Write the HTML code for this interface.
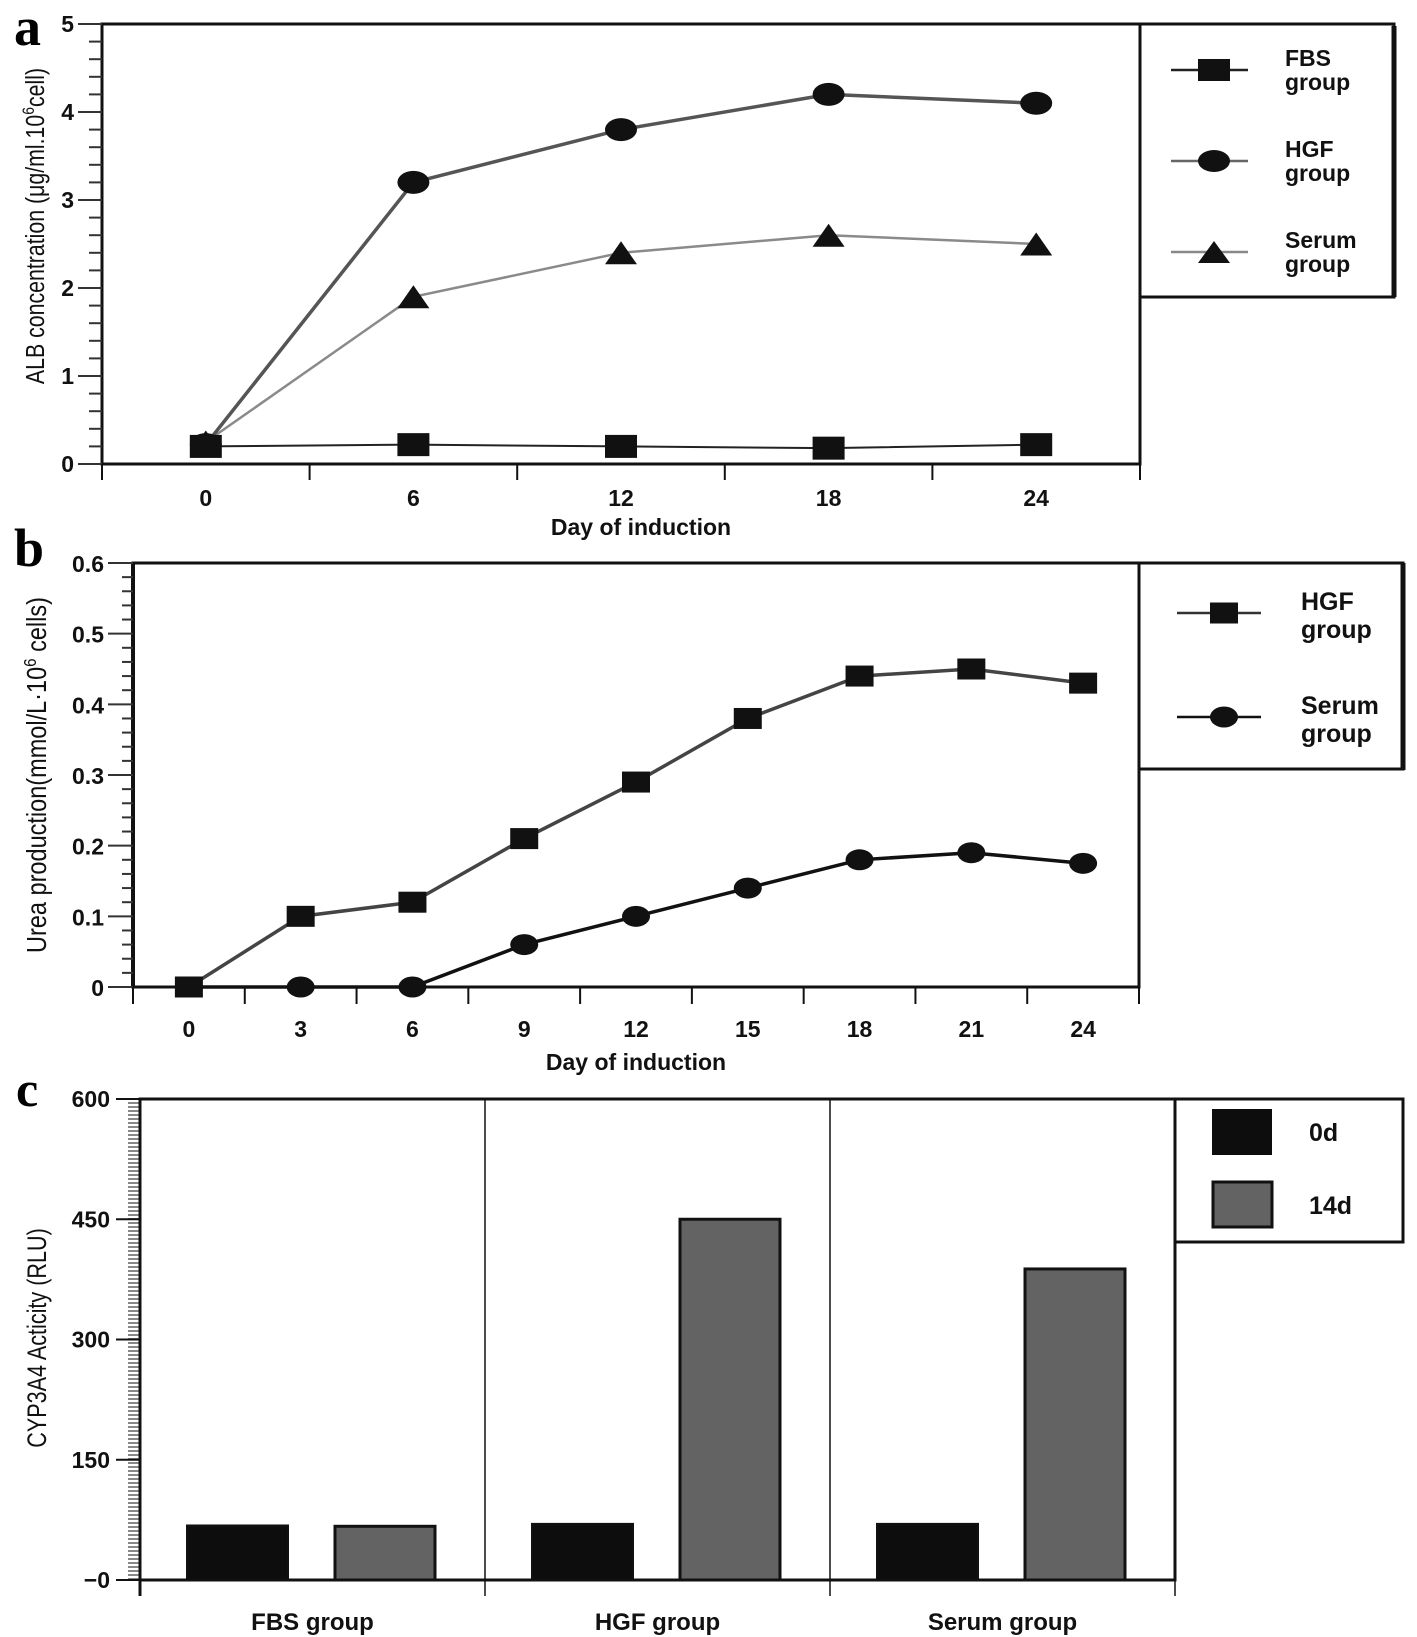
<!DOCTYPE html>
<html><head><meta charset="utf-8">
<style>
html,body{margin:0;padding:0;background:#fff;}
svg{display:block;font-family:"Liberation Sans",sans-serif;}
.tk{font-size:23px;font-weight:bold;fill:#111;}
</style></head>
<body>
<svg id="fig" width="1417" height="1637" viewBox="0 0 1417 1637" xmlns="http://www.w3.org/2000/svg">
<text x="14" y="45" font-family="Liberation Serif,serif" font-size="54" font-weight="bold">a</text>
<text x="14" y="566" font-family="Liberation Serif,serif" font-size="54" font-weight="bold">b</text>
<text x="16" y="1106" font-family="Liberation Serif,serif" font-size="50" font-weight="bold">c</text>
<g id="ga"></g>
<g id="gb"></g>
<g id="gc"></g>
</svg>
<script>
// Panel a data
const aDays = [0, 6, 12, 18, 24];
const aFBS = [0.2, 0.22, 0.2, 0.18, 0.22];
const aHGF = [0.22, 3.2, 3.8, 4.2, 4.1];
const aSerum = [0.25, 1.9, 2.4, 2.6, 2.5];
const aYTicks = [0, 1, 2, 3, 4, 5];
// Panel b data
const bDays = [0, 3, 6, 9, 12, 15, 18, 21, 24];
const bHGF = [0, 0.1, 0.12, 0.21, 0.29, 0.38, 0.44, 0.45, 0.43];
const bSerum = [0, 0, 0, 0.06, 0.1, 0.14, 0.18, 0.19, 0.175];
const bYTicks = ["0", "0.1", "0.2", "0.3", "0.4", "0.5", "0.6"];
// Panel c data
const cGroups = ["FBS group", "HGF group", "Serum group"];
const c0d = [68, 70, 70];
const c14d = [67, 450, 388];
const cYTicks = ["\u22120", "150", "300", "450", "600"];

const NS = "http://www.w3.org/2000/svg";
function mk(parent, tag, attrs, text) {
  const e = document.createElementNS(NS, tag);
  for (const k in attrs) e.setAttribute(k, attrs[k]);
  if (text !== undefined) e.textContent = text;
  parent.appendChild(e);
  return e;
}
function marker(g, type, cx, cy, w, h) {
  let e;
  if (type === 'sq') e = mk(g, 'rect', {x: cx - w/2, y: cy - h/2, width: w, height: h, fill: '#111'});
  else if (type === 'ci') e = mk(g, 'ellipse', {cx: cx, cy: cy, rx: w/2, ry: h/2, fill: '#111'});
  else e = mk(g, 'polygon', {points: `${cx-w/2},${cy+h/2} ${cx+w/2},${cy+h/2} ${cx},${cy-h/2}`, fill: '#111'});
  return e;
}

// ---------- Panel A ----------
(function(){
  const g = document.getElementById('ga');
  const L = 102, R = 1140, T = 24, B = 464;
  const xs = d => L + (d + 3) / 30 * (R - L);
  const ys = v => B - v / 5 * (B - T);
  mk(g, 'rect', {x: L, y: T, width: R - L, height: B - T, fill: 'none', stroke: '#111', 'stroke-width': 3});
  for (let i = 0; i <= 25; i++) {
    const v = i * 0.2, y = ys(v), major = i % 5 === 0;
    mk(g, 'line', {x1: major ? 78 : 89, x2: L, y1: y, y2: y, stroke: '#333', 'stroke-width': 2});
  }
  aYTicks.forEach(v => {
    const t = mk(g, 'text', {x: 74, y: ys(v) + 8, 'text-anchor': 'end', class: 'tk'}, String(v));
    
    
  });
  for (let d = -3; d <= 27; d += 6) mk(g, 'line', {x1: xs(d), x2: xs(d), y1: B, y2: B + 16, stroke: '#111', 'stroke-width': 2});
  aDays.forEach(d => {
    const t = mk(g, 'text', {x: xs(d), y: 506, 'text-anchor': 'middle', class: 'tk'}, String(d));
    
    
  });
  const xt = mk(g, 'text', {x: (xs(0) + xs(24)) / 2 + 20, y: 535, 'text-anchor': 'middle', class: 'tk'}, 'Day of induction');
  
  
  const yt = mk(g, 'text', {transform: 'translate(44,226) rotate(-90) scale(0.82,1)', 'text-anchor': 'middle', 'font-size': 26, fill: '#111'}, '');
  yt.innerHTML = 'ALB concentration (\u03bcg/ml.10<tspan dy="-10" font-size="17">6</tspan><tspan dy="10">cell)</tspan>';
  
  
  const series = [[aSerum, '#8a8a8a', 2.5, 'tri', 'serum'], [aHGF, '#555', 3.5, 'ci', 'hgf'], [aFBS, '#222', 2, 'sq', 'fbs']];
  series.forEach(s => {
    const pl = mk(g, 'polyline', {points: aDays.map((d, i) => xs(d) + ',' + ys(s[0][i])).join(' '), fill: 'none', stroke: s[1], 'stroke-width': s[2]});
    
    
    aDays.forEach((d, i) => {
      const m = marker(g, s[3], xs(d), ys(s[0][i]), 32, 23);
      
      
    });
  });
  const lg = mk(g, 'g', {});
  
  
  mk(lg, 'rect', {x: 1140, y: 24, width: 254, height: 273, fill: '#fff', stroke: '#111', 'stroke-width': 3});
  mk(lg, 'line', {x1: 1394, y1: 26, x2: 1394, y2: 297, stroke: '#111', 'stroke-width': 5});
  [['FBS', 70, '#222', 'sq'], ['HGF', 161, '#666', 'ci'], ['Serum', 252, '#888', 'tri']].forEach(e => {
    mk(lg, 'line', {x1: 1171, x2: 1248, y1: e[1], y2: e[1], stroke: e[2], 'stroke-width': 2.5});
    marker(lg, e[3], 1214, e[1], 32, 22);
    const t1 = mk(lg, 'text', {x: 1285, y: e[1] - 4, 'font-size': 23, 'font-weight': 'bold', fill: '#111'}, e[0]);
    
    
    mk(lg, 'text', {x: 1285, y: e[1] + 20, 'font-size': 23, 'font-weight': 'bold', fill: '#111'}, 'group');
  });
})();

// ---------- Panel B ----------
(function(){
  const g = document.getElementById('gb');
  const L = 133, R = 1139, T = 563, B = 987;
  const xs = d => L + (d + 1.5) / 27 * (R - L);
  const ys = v => B - v / 0.6 * (B - T);
  mk(g, 'rect', {x: L, y: T, width: R - L, height: B - T, fill: 'none', stroke: '#111', 'stroke-width': 3});
  mk(g, 'line', {x1: L, y1: T, x2: L, y2: B, stroke: '#111', 'stroke-width': 4});
  for (let i = 0; i <= 30; i++) {
    const y = ys(i * 0.02), major = i % 5 === 0;
    mk(g, 'line', {x1: major ? 108 : 122, x2: L, y1: y, y2: y, stroke: '#333', 'stroke-width': 2});
  }
  bYTicks.forEach(s => {
    const t = mk(g, 'text', {x: 104, y: ys(parseFloat(s)) + 9, 'text-anchor': 'end', class: 'tk', 'font-size': 25}, s);
    
    
  });
  for (let d = -1.5; d <= 25.5; d += 3) mk(g, 'line', {x1: xs(d), x2: xs(d), y1: B, y2: B + 17, stroke: '#111', 'stroke-width': 2});
  bDays.forEach(d => {
    const t = mk(g, 'text', {x: xs(d), y: 1037, 'text-anchor': 'middle', class: 'tk', 'font-size': 25}, String(d));
    
    
  });
  const xt = mk(g, 'text', {x: 636, y: 1070, 'text-anchor': 'middle', class: 'tk', 'font-size': 25}, 'Day of induction');
  
  
  const yt = mk(g, 'text', {transform: 'translate(46,775) rotate(-90) scale(0.84,1)', 'text-anchor': 'middle', 'font-size': 28, fill: '#111'}, '');
  yt.innerHTML = 'Urea production(mmol/L\u00b710<tspan dy="-10" font-size="18">6</tspan><tspan dy="10"> cells)</tspan>';
  
  
  const series = [[bSerum, '#111', 3.5, 'ci', 'serum'], [bHGF, '#444', 3.5, 'sq', 'hgf']];
  series.forEach(s => {
    const pl = mk(g, 'polyline', {points: bDays.map((d, i) => xs(d) + ',' + ys(s[0][i])).join(' '), fill: 'none', stroke: s[1], 'stroke-width': s[2]});
    
    
    bDays.forEach((d, i) => {
      const m = marker(g, s[3], xs(d), ys(s[0][i]), 28, 21);
      
      
    });
  });
  const lg = mk(g, 'g', {});
  
  
  mk(lg, 'rect', {x: 1139, y: 563, width: 264, height: 206, fill: '#fff', stroke: '#111', 'stroke-width': 3});
  mk(lg, 'line', {x1: 1403, y1: 563, x2: 1403, y2: 770, stroke: '#111', 'stroke-width': 5});
  [['HGF', 613, '#333', 'sq'], ['Serum', 717, '#111', 'ci']].forEach(e => {
    mk(lg, 'line', {x1: 1177, x2: 1261, y1: e[1], y2: e[1], stroke: e[2], 'stroke-width': 2.5});
    marker(lg, e[3], 1224, e[1], 28, 21);
    const t1 = mk(lg, 'text', {x: 1301, y: e[1] - 3, 'font-size': 25, 'font-weight': 'bold', fill: '#111'}, e[0]);
    
    
    mk(lg, 'text', {x: 1301, y: e[1] + 25, 'font-size': 25, 'font-weight': 'bold', fill: '#111'}, 'group');
  });
})();

// ---------- Panel C ----------
(function(){
  const g = document.getElementById('gc');
  const L = 140, R = 1175, T = 1099, B = 1580;
  const gw = (R - L) / cGroups.length;
  const ys = v => B - v / 600 * (B - T);
  for (let y = T; y <= B; y += 4) mk(g, 'line', {x1: 128, x2: L, y1: y, y2: y, stroke: '#888', 'stroke-width': 2});
  mk(g, 'rect', {x: L, y: T, width: R - L, height: B - T, fill: 'none', stroke: '#111', 'stroke-width': 3});
  mk(g, 'line', {x1: L, y1: T, x2: L, y2: B + 16, stroke: '#111', 'stroke-width': 3});
  for (let i = 1; i < cGroups.length; i++) mk(g, 'line', {x1: L + i * gw, x2: L + i * gw, y1: T, y2: B + 16, stroke: '#111', 'stroke-width': 1.5});
  mk(g, 'line', {x1: R, x2: R, y1: B, y2: B + 16, stroke: '#111', 'stroke-width': 1.5});
  cYTicks.forEach(s => {
    const v = parseFloat(s.replace('\u2212', '')) || 0;
    mk(g, 'line', {x1: 116, x2: L, y1: ys(v), y2: ys(v), stroke: '#111', 'stroke-width': 2});
    const t = mk(g, 'text', {x: 110, y: ys(v) + 8, 'text-anchor': 'end', class: 'tk', 'font-size': 24}, s);
    
    
  });
  const yt = mk(g, 'text', {transform: 'translate(46,1338) rotate(-90) scale(0.8,1)', 'text-anchor': 'middle', 'font-size': 27, fill: '#111'}, 'CYP3A4 Acticity (RLU)');
  
  
  cGroups.forEach((name, i) => {
    const x0 = L + i * gw;
    const b1 = mk(g, 'rect', {x: x0 + 47, y: ys(c0d[i]), width: 101, height: B - ys(c0d[i]), fill: '#0d0d0d', stroke: '#111', 'stroke-width': 2});
    
    
    const b2 = mk(g, 'rect', {x: x0 + 195, y: ys(c14d[i]), width: 100, height: B - ys(c14d[i]), fill: '#636363', stroke: '#111', 'stroke-width': 3});
    
    
    const t = mk(g, 'text', {x: x0 + gw / 2, y: 1630, 'text-anchor': 'middle', 'font-size': 24, 'font-weight': 'bold', fill: '#111'}, name);
    
    
  });
  mk(g, 'line', {x1: L, x2: R, y1: B, y2: B, stroke: '#111', 'stroke-width': 3});
  const lg = mk(g, 'g', {});
  
  
  mk(lg, 'rect', {x: 1175, y: 1099, width: 228, height: 143, fill: '#fff', stroke: '#111', 'stroke-width': 3});
  mk(lg, 'rect', {x: 1212, y: 1109, width: 60, height: 46, fill: '#0d0d0d'});
  mk(lg, 'rect', {x: 1213, y: 1182, width: 59, height: 45, fill: '#636363', stroke: '#111', 'stroke-width': 3});
  const l1 = mk(lg, 'text', {x: 1309, y: 1141, 'font-size': 25, 'font-weight': 'bold', fill: '#111'}, '0d');
  
  
  const l2 = mk(lg, 'text', {x: 1309, y: 1214, 'font-size': 25, 'font-weight': 'bold', fill: '#111'}, '14d');
  
  
})();
</script>
</body></html>
